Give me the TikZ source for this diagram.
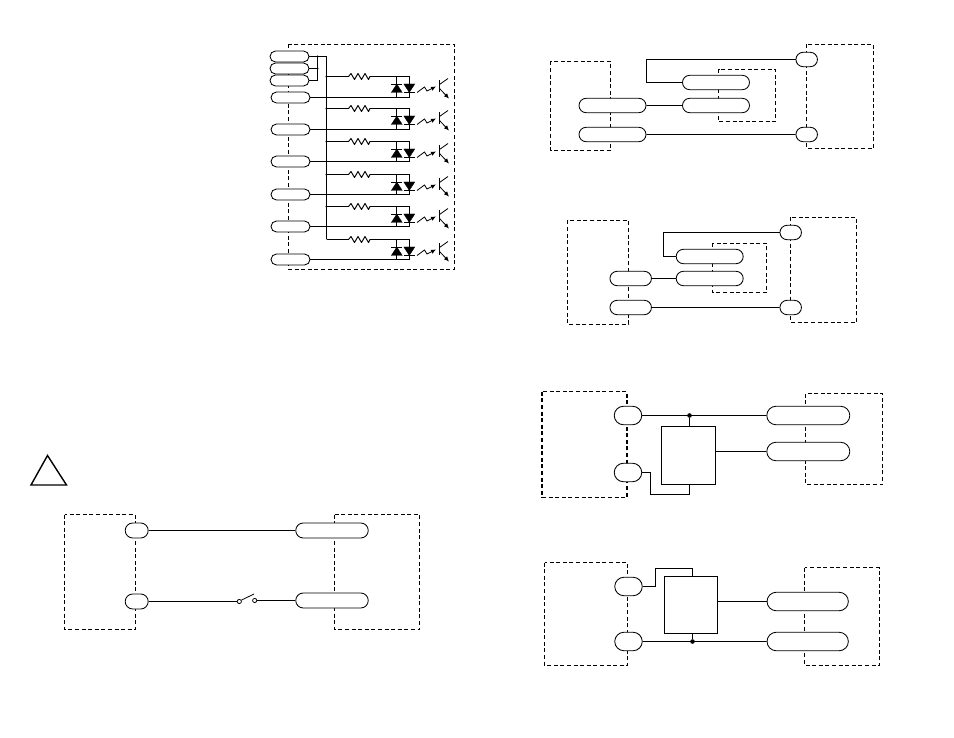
\documentclass[tikz,border=0pt]{standalone}
\usetikzlibrary{shapes.misc,arrows.meta,calc}
\tikzset{
  wire/.style={line width=0.95pt},
  dashbox/.style={line width=0.85pt,dash pattern=on 4pt off 2.6pt},
  thickdash/.style={line width=1.4pt,dash pattern=on 4pt off 2.6pt},
  pill/.style={draw,fill=white,rounded rectangle,inner sep=0pt,line width=0.85pt},
  pilla/.style={pill,minimum width=39pt,minimum height=11pt},
  pillb/.style={pill,minimum width=67pt,minimum height=14.4pt},
  pillc/.style={pill,minimum width=21.5pt,minimum height=14.4pt},
  pilld/.style={pill,minimum width=27.5pt,minimum height=18.5pt},
  pille/.style={pill,minimum width=83pt,minimum height=18.5pt},
  pillf/.style={pill,minimum width=23pt,minimum height=15pt},
  pillg/.style={pill,minimum width=72.5pt,minimum height=15pt},
  pillh/.style={pill,minimum width=41.5pt,minimum height=14.4pt},
  block/.style={draw,fill=white,inner sep=0pt,line width=0.95pt},
  jdot/.style={circle,fill=black,inner sep=0pt,minimum size=4.6pt},
  sdot/.style={circle,fill=black,inner sep=0pt,minimum size=2.4pt},
  swpin/.style={circle,draw,fill=white,inner sep=0pt,minimum size=4.2pt,line width=0.8pt},
  diodeshape/.style={fill=black,draw=black,line width=0.3pt},
  optoarrow/.style={-{Latex[length=5pt,width=4.5pt]}},
  optoline/.style={line width=0.8pt},
}
\begin{document}
\begin{tikzpicture}[x=1pt,y=-1pt]
\useasboundingbox (0,0) rectangle (954,738);
% ---------- opto block ----------
\draw[dashbox] (288.5,44.5) rectangle (454.5,269.5);
\node[pilla] (t1) at (289.5,56.5) {};
\node[pilla] (t2) at (289.5,68.5) {};
\node[pilla] (t3) at (289.5,80.5) {};
\coordinate (busTop) at (326.5,56.5);
\coordinate (sb) at (317.5,56.5);
\draw[wire] (t1.east) -- (busTop);
\draw[wire] (t2.east) -- (t2.east -| sb);
\draw[wire] (t3.east) -- (t3.east -| sb);
\draw[wire] (sb) -- (t3.east -| sb);
\foreach \i/\yr/\yp in {1/76.5/97.5,2/108.5/129.5,3/141.5/161.5,4/174.5/194.5,5/206.5/226.5,6/239.5/259.5}{
  \node[pilla] (p\i) at (290.5,\yp) {};
  \coordinate (r\i) at (326.5,\yr);
  % resistor and loop
  \draw[wire,line join=round] (r\i) -- ++(22,0) -- ++(2.5,-3) -- ++(3.5,6) -- ++(3.5,-6) -- ++(3.5,6) -- ++(3.5,-6) -- ++(3.5,6) -- ++(1.5,-3) -- (409.5,\yr) coordinate (c\i);
  \draw[wire] (p\i.east) -- (409.5,\yp);
  \draw[wire] (396.5,\yr) -- (396.5,\yp);
  \draw[wire] (c\i) -- (409.5,\yp);
  % diodes
  \fill[diodeshape] (396.8,\yr+7.5) -- (391.3,\yr+16) -- (402.3,\yr+16) -- cycle;
  \draw[line width=0.8pt] (391.3,\yr+7.5) -- (402.3,\yr+7.5);
  \fill[diodeshape] (409.3,\yr+16) -- (403.8,\yr+7.5) -- (414.8,\yr+7.5) -- cycle;
  \draw[line width=0.8pt] (403.8,\yr+16) -- (414.8,\yr+16);
  % light
  \draw[optoline,optoarrow] (417,\yr+16) -- (424.5,\yr+10.5) -- (427,\yr+14.5) -- (436,\yr+10);
  % phototransistor
  \draw[line width=0.95pt] (439.5,\yr+4) -- (439.5,\yr+16);
  \draw[optoline] (439.5,\yr+8) -- (448,\yr+2);
  \draw[optoline,optoarrow] (439.5,\yr+12) -- (449,\yr+22);
}
\draw[wire] (busTop) -- (r6);
\foreach \i in {1,...,5}{\node[sdot] at (r\i) {};}
\node[sdot] at (sb) {};
\node[sdot] at (t2.east -| sb) {};
% ---------- top right ----------
\draw[dashbox] (550.5,61.5) rectangle (610.5,150.5);
\draw[dashbox] (806.5,44.5) rectangle (873.5,148.5);
\draw[dashbox] (718.5,69.5) rectangle (775.5,121.5);
\node[pillb] (a1) at (612.5,105.5) {};
\node[pillb] (a2) at (612.5,134.5) {};
\node[pillb] (a3) at (716,82.5) {};
\node[pillb] (a4) at (716,105.5) {};
\node[pillc] (a5) at (806.7,59.5) {};
\node[pillc] (a6) at (806.7,134.5) {};
\draw[wire] (a5.west) -- (646.5,59.5) -- (646.5,82.5) -- (a3.west);
\draw[wire] (a1) -- (a4);
\draw[wire] (a2) -- (a6);
% ---------- second ----------
\draw[dashbox] (567.5,220.5) rectangle (628.5,324.5);
\draw[dashbox] (790.5,217.5) rectangle (856.5,322.5);
\draw[dashbox] (712.5,243.5) rectangle (766.5,292.5);
\node[pillh] (b1) at (630.7,278.5) {};
\node[pillh] (b2) at (630.7,307.5) {};
\node[pillb] (b3) at (709.7,256.5) {};
\node[pillb] (b4) at (709.7,278.5) {};
\node[pillc] (b5) at (790.7,232.5) {};
\node[pillc] (b6) at (790.7,307.5) {};
\draw[wire] (b5.west) -- (663.5,232.5) -- (663.5,256.5) -- (b3.west);
\draw[wire] (b1) -- (b4);
\draw[wire] (b2) -- (b6);
% ---------- third ----------
\draw[thickdash] (542,391.7) rectangle (627,497.3);
\draw[dashbox] (805.5,393.5) rectangle (882.5,484.5);
\node[pilld] (c1) at (628,415.5) {};
\node[pilld] (c2) at (628,472.5) {};
\node[pille] (c3) at (808.3,415.5) {};
\node[pille] (c4) at (808.3,451.5) {};
\node[block,minimum width=54pt,minimum height=58pt] (c5) at (688.5,455.5) {};
\node[jdot] (c6) at (689.5,415.5) {};
\draw[wire] (c1) -- (c3);
\draw[wire] (c6) -- (c6 |- c5.north);
\draw[wire] (c5.east |- c4) -- (c4.west);
\draw[wire] (c2.east) -- (650.5,472.5) -- (650.5,494.5) -- (689.5,494.5) -- (c6 |- c5.south);
% ---------- fourth ----------
\draw[dashbox] (544.5,562.5) rectangle (627.5,665.5);
\draw[dashbox] (804.5,567.5) rectangle (879.5,665.5);
\node[pilld] (d1) at (628.5,586.5) {};
\node[pilld] (d2) at (628.5,641.5) {};
\node[pille,minimum width=81.3pt] (d3) at (807.7,601.5) {};
\node[pille,minimum width=81.3pt] (d4) at (807.7,641.5) {};
\node[block,minimum width=53pt,minimum height=57pt] (d5) at (691,605) {};
\node[jdot] (d6) at (692.5,641.5) {};
\draw[wire] (d2) -- (d4);
\draw[wire] (d6) -- (d6 |- d5.south);
\draw[wire] (d5.east |- d3) -- (d3.west);
\draw[wire] (d1.east) -- (655.5,586.5) -- (655.5,568.5) -- (692.5,568.5) -- (d6 |- d5.north);
% ---------- warning triangle ----------
\draw[line width=1.4pt,line join=miter] (47.5,455.5) -- (66.5,485) -- (31,485) -- cycle;
% ---------- bottom left ----------
\draw[dashbox] (64.5,514.5) rectangle (135.5,629.5);
\draw[dashbox] (334.5,514.5) rectangle (419.5,629.5);
\node[pillf] (e1) at (136.7,530.5) {};
\node[pillf] (e2) at (136.7,601.5) {};
\node[pillg] (e3) at (332,530.5) {};
\node[pillg] (e4) at (332,600.5) {};
\node[swpin] (s1) at (239.3,601.5) {};
\node[swpin] (s2) at (254.7,600.5) {};
\draw[wire] (e1.east) -- (e3.west);
\draw[wire] (e2.east) -- (s1);
\draw[wire] (s2) -- (e4.west);
\draw[line width=0.8pt] (s1) ++(2,-1.3) -- (254,594);
\end{tikzpicture}
\end{document}
